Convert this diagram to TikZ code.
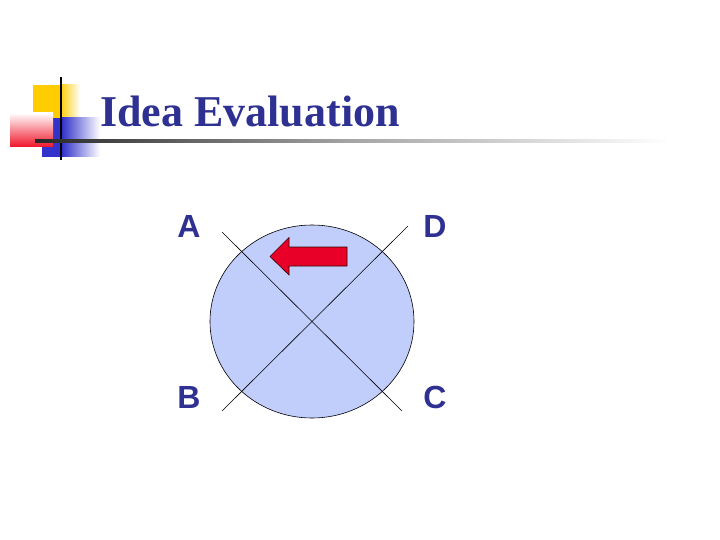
\documentclass[tikz,border=0pt]{standalone}
\usepackage{fontspec}
\newfontfamily\titelfont{Liberation Serif}
\newfontfamily\buchstabenfont{Liberation Sans}
\definecolor{navy}{RGB}{46,49,146}
\definecolor{kreisblau}{RGB}{193,205,250}
\definecolor{pfeilrot}{RGB}{232,0,40}
\definecolor{logogelb}{RGB}{255,204,0}
\definecolor{logoblau}{RGB}{51,51,204}
\definecolor{logorot}{RGB}{240,20,40}

\begin{document}
\begin{tikzpicture}[x=1pt,y=-1pt,
    titel/.style={anchor=base west, inner sep=0pt, text=navy, font=\titelfont\bfseries\fontsize{44}{50}\selectfont},
    ecke/.style={inner sep=0pt, text=navy, font=\buchstabenfont\bfseries\fontsize{32}{36}\selectfont},
    achse/.style={black, line width=0.6pt}]
        \useasboundingbox (0,0) rectangle (720,540);
        \fill[white] (0,0) rectangle (720,540);

        % Zeichne das Logo mit den farbigen Quadraten
        \fill[logogelb] (33,85) rectangle (60,118);
        \shade[left color=logogelb, right color=white] (60,85) rectangle (80,118);
        \fill[logoblau] (42,118) rectangle (62,157);
        \shade[left color=logoblau, right color=white] (62,118) rectangle (100,157);
        \shade[left color=white, right color=logorot, shading angle=0] (10,113) rectangle (53,147);
        \draw[line width=2pt] (61,77) -- (61,160);
        \shade[left color=black!85, right color=white, middle color=black!35] (35,139.5) rectangle (670,142.5);

        % Zeichne den Titel
        \node[titel] (titel) at (100,127) {Idea Evaluation};

        % Zeichne den Kreis mit den beiden Diagonalen
        \filldraw[fill=kreisblau, draw=black, line width=0.6pt] (312,321.5) ellipse [x radius=102pt, y radius=96.5pt];
        \draw[achse] (222,232) -- (402,411);
        \draw[achse] (408,226) -- (222,411);

        % Beschrifte die vier Ecken
        \foreach \name/\x/\y in {A/189/226, D/435/226, B/189/397, C/435/397} {
            \node[ecke] (\name) at (\x,\y) {\name};
        }

        % Roter Pfeil nach links
        \filldraw[fill=pfeilrot, draw=black!80!red, line width=0.6pt]
            (270,256.5) -- (289,237.5) -- (289,247) -- (347,247) -- (347,266)
            -- (289,266) -- (289,275) -- cycle;

    \end{tikzpicture}
\end{document}
